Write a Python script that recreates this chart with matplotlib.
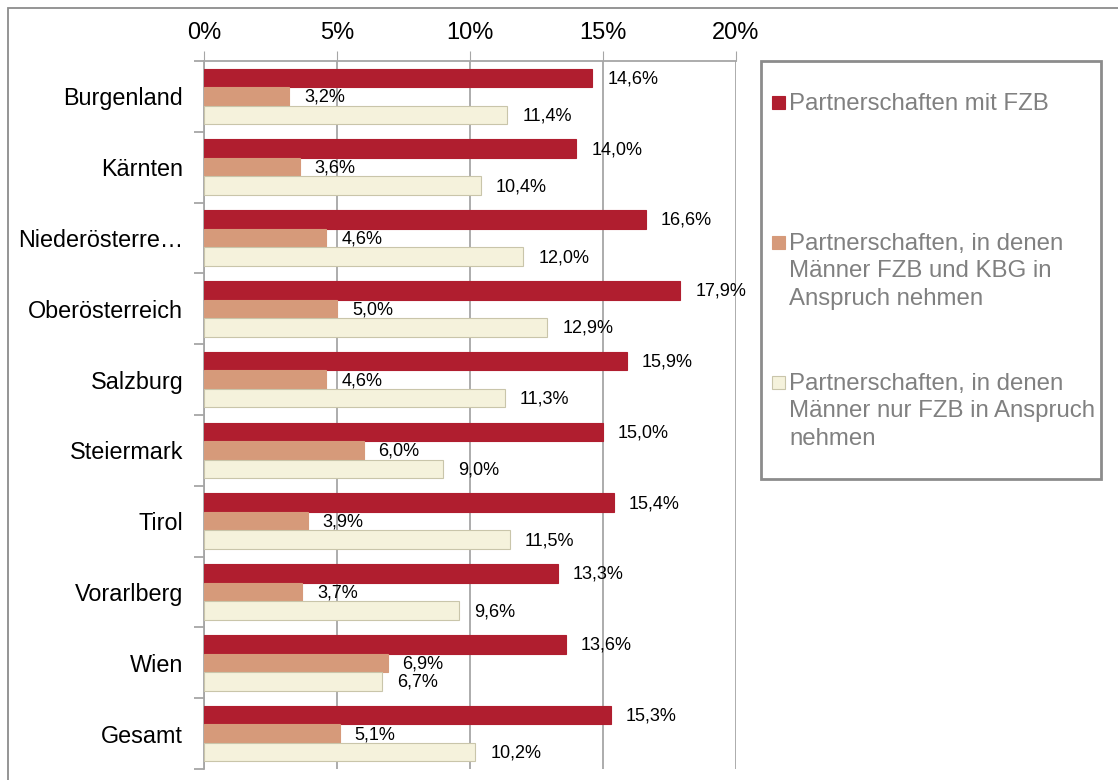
import numpy as np
import matplotlib.pyplot as plt
from matplotlib.patches import Rectangle

plt.rcParams['font.family'] = ['Liberation Sans', 'DejaVu Sans']

# Daten
regionen = ["Burgenland", "Kärnten", "Niederösterre…", "Oberösterreich", "Salzburg",
            "Steiermark", "Tirol", "Vorarlberg", "Wien", "Gesamt"]
mit_fzb = [14.6, 14.0, 16.6, 17.9, 15.9, 15.0, 15.4, 13.3, 13.6, 15.3]
fzb_kbg = [3.2, 3.6, 4.6, 5.0, 4.6, 6.0, 3.9, 3.7, 6.9, 5.1]
nur_fzb = [11.4, 10.4, 12.0, 12.9, 11.3, 9.0, 11.5, 9.6, 6.7, 10.2]
serien_namen = ["Partnerschaften mit FZB",
                "Partnerschaften, in denen\nMänner FZB und KBG in\nAnspruch nehmen",
                "Partnerschaften, in denen\nMänner nur FZB in Anspruch\nnehmen"]
x_ticks = [0, 5, 10, 15, 20]

farben = ["#B01E2F", "#D69A7A", "#F5F2DC"]
kanten = ["#B01E2F", "#D69A7A", "#C9C5AA"]
grau = "#A6A6A6"

W, H = 1118, 780
fig = plt.figure(figsize=(W / 100, H / 100), dpi=100)
ax = fig.add_axes([204 / W, 1 - 769 / H, (736 - 204) / W, (769 - 61) / H])

y = np.arange(len(regionen))
h = 0.262
for k, (werte, fc, ec) in enumerate(zip([mit_fzb, fzb_kbg, nur_fzb], farben, kanten)):
    pos = y + (k - 1) * h
    ax.barh(pos, werte, height=h, color=fc, edgecolor=ec, linewidth=0.8, zorder=3)
    for p, v in zip(pos, werte):
        ax.annotate(f"{v:.1f}%".replace(".", ","), (v, p), xytext=(15, -1),
                    textcoords="offset pixels",
                    va="center", ha="left", fontsize=13, color="black", zorder=4)

ax.set_xlim(0, 20)
ax.set_ylim(len(regionen) - 0.5, -0.5)
ax.xaxis.tick_top()
ax.set_xticks(x_ticks)
ax.set_xticklabels([f"{t}%" for t in x_ticks], fontsize=17)
ax.tick_params(axis="x", length=7, color=grau, pad=5.5)
ax.grid(axis="x", color=grau, linewidth=1.3, zorder=0)

ax.set_yticks(y)
ax.set_yticklabels(regionen, fontsize=16.8)
ax.set_yticks(np.arange(len(regionen) + 1) - 0.5, minor=True)
ax.tick_params(axis="y", which="major", length=0, pad=15)
ax.tick_params(axis="y", which="minor", length=7, color=grau, width=1.3)

for s in ["right", "bottom"]:
    ax.spines[s].set_visible(False)
for s in ["top", "left"]:
    ax.spines[s].set_color(grau)
    ax.spines[s].set_linewidth(1.3)

# Rahmen außen
fig.patches.append(Rectangle((8 / W, -0.1), 1.2, 1 - 8 / H + 0.1, transform=fig.transFigure,
                             fill=False, edgecolor="#8C8C8C", linewidth=1.3))

# Legende
fig.patches.append(Rectangle((761 / W, 1 - 479 / H), (1101 - 761) / W, (479 - 61) / H,
                             transform=fig.transFigure, fill=False,
                             edgecolor="#8C8C8C", linewidth=2))
leg_y = [103, 243, 383]
for name, fc, ec, ly in zip(serien_namen, farben, kanten, leg_y):
    fig.patches.append(Rectangle((772 / W, 1 - (ly + 6) / H), 13 / W, 13 / H,
                                 transform=fig.transFigure, facecolor=fc, edgecolor=ec,
                                 linewidth=0.8))
    fig.text(789 / W, 1 - (ly - 10) / H, name, fontsize=17.3, color="#808080",
             va="top", ha="left", linespacing=1.31)

fig.savefig("out.png", dpi=100)
